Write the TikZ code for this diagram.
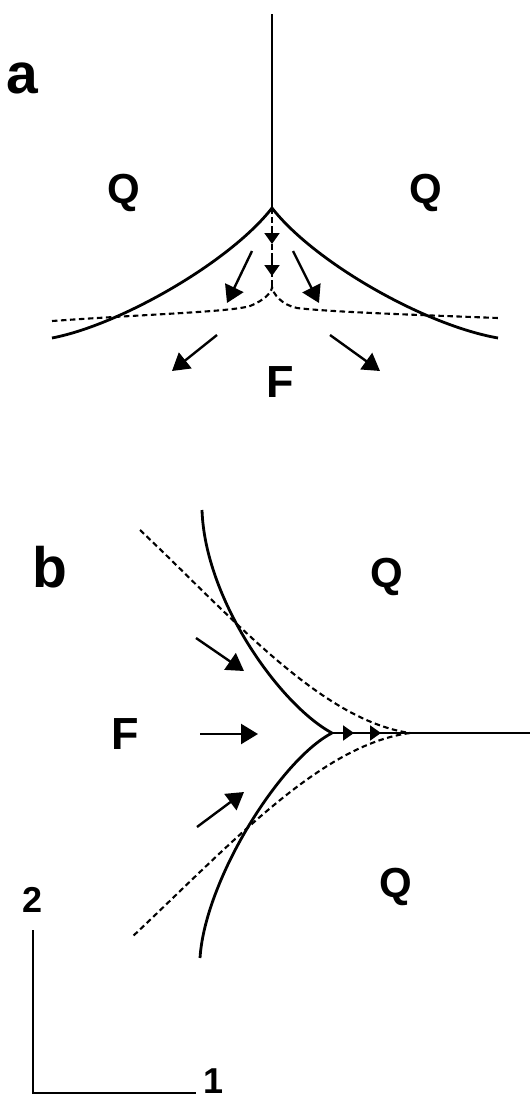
\documentclass[tikz,border=0pt]{standalone}
\usepackage{fontspec}
\setmainfont{Liberation Sans}
\usetikzlibrary{arrows.meta}
\begin{document}
\begin{tikzpicture}[x=1pt,y=-1pt,
  solidline/.style={line width=2.8pt},
  dashline/.style={line width=2.1pt,dash pattern=on 5.5pt off 3.5pt},
  bigarrow/.style={line width=2.4pt,-{Triangle[length=17pt,width=20pt]}},
  smallarrow/.style={line width=2pt,-{Triangle[length=11pt,width=15pt]}},
  lbl/.style={inner sep=0pt,font=\bfseries\fontsize{42}{42}\selectfont},
  flbl/.style={inner sep=0pt,font=\bfseries\fontsize{45}{45}\selectfont},
  panel/.style={inner sep=0pt,font=\bfseries\fontsize{57}{57}\selectfont},
  axlbl/.style={inner sep=0pt,font=\bfseries\fontsize{36}{36}\selectfont}]
\useasboundingbox (0,0) rectangle (530,1103);
% ---------- panel a ----------
\node[panel] (pa) at (22,78) {a};
\node[lbl] (qal) at (124,193) {Q};
\node[lbl] (qar) at (426,193) {Q};
\node[flbl] (fa) at (280,382) {F};
\coordinate (atop) at (272,14);
\coordinate (acusp) at (272,208);
\coordinate (aL) at (52,338);
\coordinate (aR) at (498,338);
\coordinate (dcusp) at (272,287);
\coordinate (dL) at (52,321);
\coordinate (dR) at (498,318);
\draw[solidline] (atop) -- (acusp);
\draw[solidline] (aL) .. controls (120,325) and (230,262) .. (acusp)
  .. controls (314,262) and (424,325) .. (aR);
\draw[dashline] (dL) .. controls (150,314) and (230,312) .. (250,306)
  .. controls (265,300) and (272,292) .. (dcusp)
  .. controls (273,294) and (282,305) .. (297,308)
  .. controls (330,312) and (420,315) .. (dR);
\draw[dashline] (acusp) -- (dcusp);
\coordinate (va1) at (272,226);
\coordinate (va2) at (272,244);
\coordinate (va3) at (272,258);
\coordinate (va4) at (272,276);
\draw[smallarrow] (va1) -- (va2);
\draw[smallarrow] (va3) -- (va4);
\coordinate (ia1) at (252,251); \coordinate (ia2) at (227,303);
\coordinate (ib1) at (293,251); \coordinate (ib2) at (319,303);
\coordinate (oa1) at (217,335); \coordinate (oa2) at (172,371);
\coordinate (ob1) at (330,335); \coordinate (ob2) at (380,371);
\draw[bigarrow] (ia1) -- (ia2);
\draw[bigarrow] (ib1) -- (ib2);
\draw[bigarrow] (oa1) -- (oa2);
\draw[bigarrow] (ob1) -- (ob2);
% ---------- panel b ----------
\node[panel] (pb) at (50,567) {b};
\node[lbl] (qbt) at (387,577) {Q};
\node[lbl] (qbb) at (396,887) {Q};
\node[flbl] (fb) at (125,734) {F};
\coordinate (btop) at (202,510);
\coordinate (bcusp) at (332,733);
\coordinate (bbot) at (200,958);
\coordinate (bend) at (530,733);
\coordinate (bmerge) at (410,733);
\coordinate (dtop) at (140,530);
\coordinate (dbot) at (132,937);
\draw[solidline] (btop) .. controls (205,600) and (280,705) .. (bcusp);
\draw[solidline] (bcusp) .. controls (280,760) and (205,880) .. (bbot);
\draw[solidline] (bcusp) -- (bend);
\draw[dashline] (dtop) .. controls (230,615) and (320,720) .. (bmerge);
\draw[dashline] (bmerge) .. controls (320,745) and (230,845) .. (dbot);
\coordinate (h1) at (338,733); \coordinate (h2) at (354,733);
\coordinate (h3) at (364,733); \coordinate (h4) at (381,733);
\draw[smallarrow] (h1) -- (h2);
\draw[smallarrow] (h3) -- (h4);
\coordinate (ua1) at (196,638); \coordinate (ua2) at (244,671);
\coordinate (ma1) at (200,734); \coordinate (ma2) at (258,734);
\coordinate (la1) at (197,827); \coordinate (la2) at (244,792);
\draw[bigarrow] (ua1) -- (ua2);
\draw[bigarrow] (ma1) -- (ma2);
\draw[bigarrow] (la1) -- (la2);
% ---------- axes ----------
\node[axlbl] (ax2) at (33,900) {2};
\node[axlbl,anchor=south] (ax1) at (214,1094) {1};
\coordinate (axtop) at (33,930);
\coordinate (axorig) at (33,1093);
\coordinate (axright) at (196,1093);
\draw[line width=1.6pt] (axtop) -- (axorig) -- (axright);
\end{tikzpicture}
\end{document}
